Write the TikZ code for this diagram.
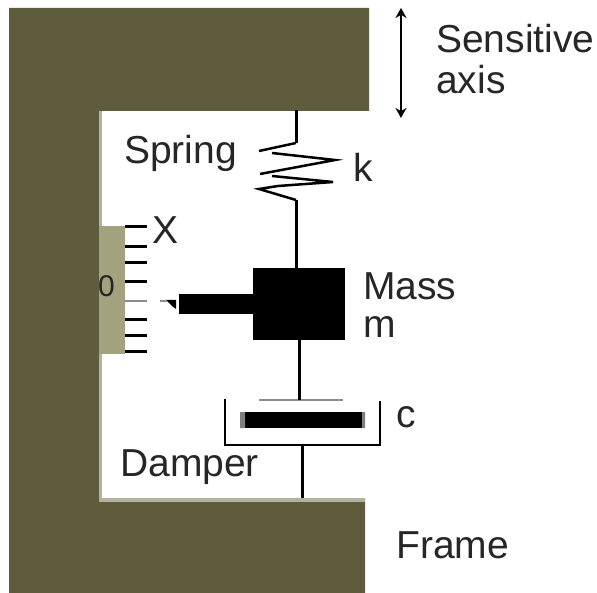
\documentclass[tikz,border=0pt]{standalone}
\usepackage{fontspec}
\setmainfont{Liberation Sans}
\usepackage{xcolor}
\usetikzlibrary{arrows.meta,positioning}
\definecolor{FrameOlive}{HTML}{5F5B3D}
\definecolor{ScaleKhaki}{HTML}{A3A27E}
\definecolor{EdgeGrey}{HTML}{B4B29C}
\tikzset{
  solidblock/.style={fill=black, draw=none, inner sep=0pt},
  label/.style={font=\fontsize{39}{39}\selectfont, inner sep=0pt, anchor=west, text=black!85},
  line/.style={line width=3pt, draw=black},
  thinline/.style={line width=2.5pt, draw=black},
  greyline/.style={line width=2.5pt, draw=black!45},
  tick/.style={line width=3pt, draw=black},
  axisline/.style={{Stealth[length=10pt,width=11pt]}-{Stealth[length=10pt,width=11pt]}, line width=2.5pt, draw=black}
}
\begin{document}
\begin{tikzpicture}[x=1pt,y=-1pt]
\useasboundingbox (0,0) rectangle (597,593);
% frame
\fill[FrameOlive] (9,8) -- (369,8) -- (369,111) -- (99,111) -- (99,498) -- (365,498) -- (365,593) -- (9,593) -- cycle;
\fill[EdgeGrey] (99,111) rectangle (102,226);
\fill[EdgeGrey] (99,354) rectangle (102,498);
\fill[EdgeGrey] (99,498) rectangle (365,502);
% scale
\node[fill=ScaleKhaki, inner sep=0pt, minimum width=26pt, minimum height=128pt] (scale) at (112,290) {};
\foreach \y in {227,247,263,282,320,336,352}
  \draw[tick] (125,\y) -- (147,\y);
\draw[greyline] (125,301) -- (147,301);
\node[label, font=\fontsize{30}{30}\selectfont] (zero) at (98,286) {0};
\node[label] (x) at (152,230) {X};
% mass and pointer
\node[solidblock, minimum width=92pt, minimum height=72pt] (mass) at (299,304) {};
\node[solidblock, minimum width=74pt, minimum height=20pt, left=0pt of mass] (rod) {};
\fill[black] (176,300) -- (166,300) -- (172,306) -- (176,309) -- cycle;
\draw[greyline] (160,301) -- (167,301);
% spring
\coordinate (top) at (296,110);
\coordinate (springtop) at (296,143);
\coordinate (springbot) at (296,200);
\draw[line] (top) -- (springtop);
\draw[thinline] (springtop) -- (259,151);
\draw[thinline] (272,153) -- (335,160) -- (260,174);
\draw[thinline] (272,176) -- (333,182) -- (278,186) -- (259,189) -- (springbot);
\draw[line] (springbot) -- (springbot |- mass.north);
% damper
\node[solidblock, minimum width=118pt, minimum height=16pt] (piston) at (303,420) {};
\fill[black!50] (240,412) rectangle (245,428) (362,412) rectangle (365,428);
\coordinate (plate) at (299,400);
\draw[greyline] (259,400) -- (343,400);
\draw[line] (plate |- mass.south) -- (plate);
\draw[thinline] (225,399) |- (380,445) -- (380,401);
\draw[line] (302,445) -- (302,498);
% sensitive axis
\coordinate (axistop) at (401,8);
\coordinate (axisbot) at (401,118);
\draw[axisline] (axistop) -- (axisbot);
% labels
\node[label] (sens) at (436,39) {Sensitive};
\node[label] (axis) at (436,80) {axis};
\node[label] (spring) at (124,153) {Spring};
\node[label] (k) at (353,167) {k};
\node[label] (massl) at (363,286) {Mass};
\node[label] (m) at (363,327) {m};
\node[label] (c) at (396,417) {c};
\node[label] (damper) at (120,467) {Damper};
\node[label] (frame) at (396,545) {Frame};
\end{tikzpicture}
\end{document}
